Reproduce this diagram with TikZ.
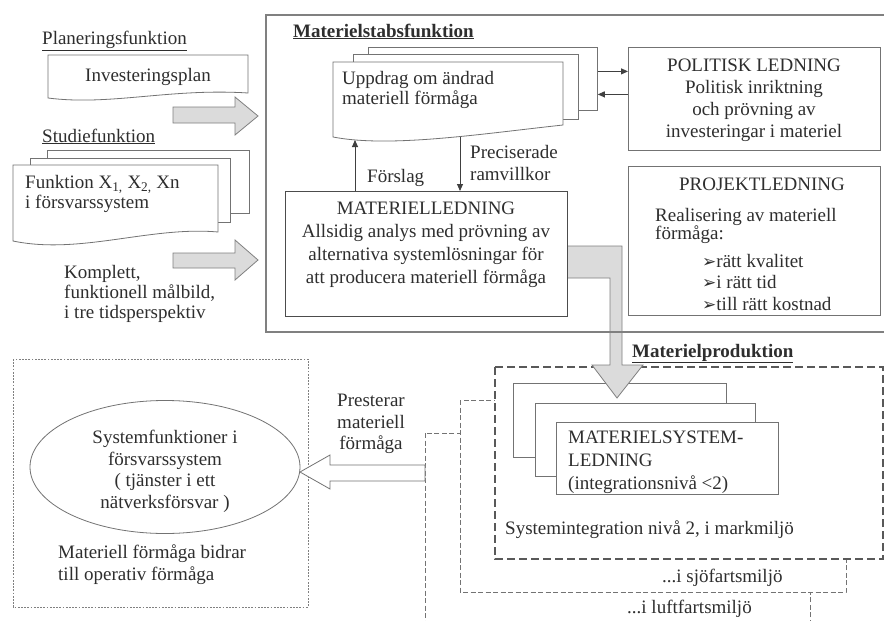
\documentclass[tikz,border=0pt]{standalone}
\usepackage{fontspec}
\setmainfont{Liberation Serif}
\newfontfamily\dejavu{DejaVu Sans}
\usetikzlibrary{arrows.meta,calc,shapes.geometric}
\newcommand{\blt}{{\dejavu\fontsize{17}{17}\selectfont\char"27A2}}
\begin{document}
\begin{tikzpicture}[x=1pt,y=-1pt,
  every node/.style={font=\fontsize{19}{23}\selectfont, text=black!82, inner sep=0pt},
  box/.style={draw=black!55, line width=0.8pt, fill=white},
  mbox/.style={draw=black!70, line width=1.3pt, fill=white},
  frame/.style={draw=black!50, line width=2.6pt},
  conn/.style={draw=black!75, line width=0.9pt, -{Triangle[length=7pt,width=6pt]}},
  blockarrow/.style={fill=black!14, draw=black!50, line width=0.8pt},
  hollowarrow/.style={fill=white, draw=black!55, line width=0.8pt},
  dotbox/.style={draw=black!50, line width=0.7pt, dash pattern=on 1.8pt off 1.4pt},
  thindash/.style={draw=black!55, line width=0.8pt, dash pattern=on 5pt off 2.5pt, fill=white},
  thickdash/.style={draw=black!65, line width=1.4pt, dash pattern=on 8pt off 4pt, fill=white},
  head/.style={font=\fontsize{19}{23}\selectfont\bfseries},
]
\useasboundingbox (0,0) rectangle (884,621);
\clip (0,0) rectangle (884,621);
\fill[white] (0,0) rectangle (884,621);

% ---------------- left column ----------------
\node[anchor=base west] (plan) at (42,45) {\underline{Planeringsfunktion}};
\path[box] (48,55) -- (248,55) -- (248,93) .. controls (170,88) and (110,106) .. (48,98) -- cycle;
\node[anchor=base] (invplan) at (148,81) {Investeringsplan};
\path[blockarrow] (173,107) -- (235,107) -- (235,97) -- (258,116) -- (235,135) -- (235,123) -- (173,123) -- cycle;

\node[anchor=base west] (studie) at (42,142) {\underline{Studiefunktion}};
\node[box, anchor=north west, minimum width=202, minimum height=63] (stB) at (47,150) {};
\node[box, anchor=north west, minimum width=200, minimum height=64] (stM) at (30,158) {};
\path[box] (13,165) -- (218,165) -- (218,232) .. controls (150,226) and (80,255) .. (13,241) -- cycle;
\node[anchor=north west, align=left, font=\fontsize{19}{20}\selectfont] (funk) at (25,175)
  {Funktion X\textsubscript{1,} X\textsubscript{2,} Xn\\i försvarssystem};
\path[blockarrow] (173,253) -- (235,253) -- (235,240) -- (258,260) -- (235,280) -- (235,268) -- (173,268) -- cycle;
\node[anchor=north west, align=left, font=\fontsize{19}{20}\selectfont] (kompl) at (64,265)
  {Komplett,\\funktionell målbild,\\i tre tidsperspektiv};

% ---------------- bottom left ----------------
\draw[dotbox] (13,359) rectangle (308,607);
\node[draw=black!55, line width=0.8pt, ellipse, minimum width=270, minimum height=133] (ell) at (165,467) {};
\node[anchor=north, align=center, font=\fontsize{19}{21.7}\selectfont] (elltxt) at (165,430)
  {Systemfunktioner i\\försvarssystem\\( tjänster i ett\\nätverksförsvar )};
\node[anchor=north west, align=left, font=\fontsize{19}{22}\selectfont] (bidrar) at (58,545)
  {Materiell förmåga bidrar\\till operativ förmåga};
\node[anchor=north, align=center, font=\fontsize{19}{21.5}\selectfont] (prest) at (371,394)
  {Presterar\\materiell\\förmåga};

% ---------------- Materielproduktion ----------------
\node[anchor=base west, head] (mprod) at (632,357) {\underline{Materielproduktion}};
\draw[thindash] (425,433) rectangle (810,640);
\node[anchor=base west] (luft) at (627,613) {...i luftfartsmiljö};
\draw[thindash] (460,400) rectangle (846,592);
\node[anchor=base west] (sjo) at (662,582) {...i sjöfartsmiljö};
\draw[thickdash] (495,367) rectangle (883,559);
\node[anchor=base west] (mark) at (505,534) {Systemintegration nivå 2, i markmiljö};
\node[box, anchor=north west, minimum width=213, minimum height=74] (msB) at (513,383) {};
\node[box, anchor=north west, minimum width=220, minimum height=73] (msM) at (535,403) {};
\node[box, anchor=north west, minimum width=222, minimum height=72] (msF) at (556,422) {};
\node[anchor=north west, align=left] (mstxt) at (568,431)
  {MATERIELSYSTEM-\\LEDNING\\(integrationsnivå <2)};
\path[hollowarrow] (425,465) -- (330,465) -- (330,455) -- (300,472) -- (330,489) -- (330,481) -- (425,481) -- cycle;

% ---------------- Materielstabsfunktion ----------------
\node[anchor=base west, head] (mstab) at (293,37) {\underline{Materielstabsfunktion}};
\node[box, anchor=north west, minimum width=229, minimum height=63] (uppB) at (368,47) {};
\node[box, anchor=north west, minimum width=225, minimum height=65] (uppM) at (353,54) {};
\path[box] (333,62) -- (563,62) -- (563,125) .. controls (480,134) and (390,148) .. (333,137) -- cycle;
\coordinate (uF1) at (355,140);
\coordinate (uF2) at (460,136.5);
\node[anchor=north west, align=left, font=\fontsize{19}{20}\selectfont] (upptxt) at (342,71)
  {Uppdrag om ändrad\\materiell förmåga};

\node[box, anchor=north west, minimum width=252, minimum height=103] (pol) at (628,47) {};
\node[anchor=north, align=center, font=\fontsize{19}{22}\selectfont] (poltxt) at (754,59)
  {POLITISK LEDNING\\Politisk inriktning\\och prövning av\\investeringar i materiel};
\draw[conn] ([yshift=7.5pt]uppB.east) -- ([yshift=7.5pt]uppB.east -| pol.west);
\draw[conn] ([yshift=-15.5pt]uppB.east -| pol.west) -- ([yshift=-15.5pt]uppB.east);

\node[box, anchor=north west, minimum width=252, minimum height=149] (proj) at (628,166) {};
\node[anchor=base] (projtxt) at (762,190) {PROJEKTLEDNING};
\node[anchor=north west, align=left, font=\fontsize{19}{18}\selectfont] (real) at (655,208)
  {Realisering av materiell\\förmåga:};
\node[anchor=north west, align=left, font=\fontsize{19}{21.5}\selectfont] (bul) at (702,254)
  {\blt rätt kvalitet\\\blt i rätt tid\\\blt till rätt kostnad};

% gray L-shaped arrow to Materielproduktion
\path[blockarrow] (560,246) -- (622,246) -- (622,365) -- (643,365) -- (617,398) -- (592,365) -- (610,365) -- (610,278) -- (560,278) -- cycle;

\node[mbox, anchor=north west, minimum width=282, minimum height=125] (mled) at (285,191) {};
\node[anchor=north, align=center] (mledtxt) at (426,202)
  {MATERIELLEDNING\\Allsidig analys med prövning av\\alternativa systemlösningar för\\att producera materiell förmåga};

\draw[conn] (uF1 |- mled.north) -- (uF1);
\node[anchor=base west] (forslag) at (367,182) {Förslag};
\draw[conn] (uF2) -- (uF2 |- mled.north);
\node[anchor=north west, align=left, font=\fontsize{19}{22}\selectfont] (prec) at (470,145)
  {Preciserade\\ramvillkor};

\draw[frame] (266,15) rectangle (900,332);
\end{tikzpicture}
\end{document}
